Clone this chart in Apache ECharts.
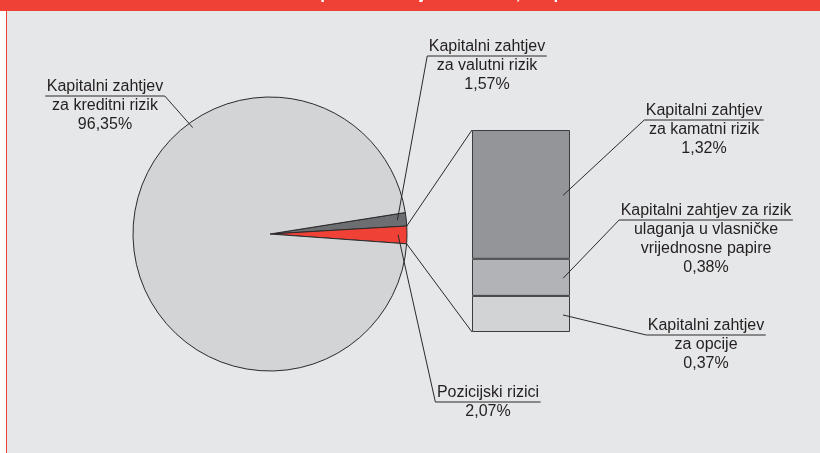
<!DOCTYPE html>
<html><head><meta charset="utf-8">
<script src="https://cdn.jsdelivr.net/npm/echarts@6/dist/echarts.min.js"></script>
<style>html,body{margin:0;padding:0;background:#fff}#c{width:820px;height:453px}</style>
</head><body><div id="c"></div>
<script>
// ---- data ----
const titleText = 'Slika 21. Struktura kapitalnih zahtjeva banaka, 31. prosinca 2007.';
const pieNames = ['Kapitalni zahtjev\nza valutni rizik', 'Pozicijski rizici', 'Kapitalni zahtjev\nza kreditni rizik'];
const pieValues = [1.57, 2.07, 96.35];
const barNames = ['Kapitalni zahtjev\nza opcije', 'Kapitalni zahtjev za rizik\nulaganja u vlasničke\nvrijednosne papire', 'Kapitalni zahtjev\nza kamatni rizik'];
const barValues = [0.37, 0.38, 1.32];

// ---- styles / layout ----
const pieColors = ['#6d6e71', '#ef4136', '#d3d4d6'];
const barColors = ['#d2d3d5', '#b2b3b6', '#939598'];
const PIE_C = [270, 234], PIE_R = 137, START = 9;
const GRID = {left: 472, top: 130, width: 98, height: 202};
const FONT = '16px "Liberation Sans", Arial, sans-serif';
const TXT = '#231f20', LINE = '#2b2a2b';
// label layouts: centre x, underline y, side of underline the leader attaches to
const pieLabelPos = [
  {cx: 487, uy: 56, end: 'left', r: 0.935},
  {cx: 488, uy: 402, end: 'left', r: 0.935},
  {cx: 105, uy: 96, end: 'right', r: 0.96, angle: 126}
];
const barLabelPos = [
  {cx: 706, uy: 335, end: 'left'},
  {cx: 706, uy: 220, end: 'left'},
  {cx: 704, uy: 120, end: 'left'}
];

const fmt = v => v.toFixed(2).replace('.', ',') + '%';
const sum = a => a.reduce((s, x) => s + x, 0);
const barTotal = sum(barValues);
const pieTotal = sum(pieValues);

const chart = echarts.init(document.getElementById('c'));
chart.setOption({
  backgroundColor: '#e6e7e8',
  animation: false,
  grid: Object.assign({}, GRID),
  xAxis: {type: 'category', data: ['p'], show: false},
  yAxis: {type: 'value', min: 0, max: barTotal, show: false},
  series: barValues.map((v, i) => ({
    type: 'bar', stack: 's', barWidth: '100%', data: [v], silent: true,
    itemStyle: {color: barColors[i], borderColor: '#3c3c3e', borderWidth: 1}
  })).concat([{
    type: 'pie', center: PIE_C, radius: PIE_R, startAngle: START, clockwise: true,
    silent: true, label: {show: false}, labelLine: {show: false},
    itemStyle: {borderColor: LINE, borderWidth: 1},
    data: pieValues.map((v, i) => ({value: v, name: pieNames[i], itemStyle: {color: pieColors[i]}}))
  }])
});

// ---- annotations ----
const ctx = document.createElement('canvas').getContext('2d');
ctx.font = FONT;
const pt = (deg, r) => { const t = deg * Math.PI / 180; return [PIE_C[0] + r * Math.cos(t), PIE_C[1] - r * Math.sin(t)]; };

let acc = 0;
const pieAngles = pieValues.map(v => { const a0 = START - acc * 360 / pieTotal; acc += v; const a1 = START - acc * 360 / pieTotal; return [a0, a1]; });

const g = [];
g.push({type: 'rect', shape: {x: 0, y: 0, width: 6, height: 453}, style: {fill: '#ffffff'}, z: 50});
g.push({type: 'rect', shape: {x: 6, y: 0, width: 1, height: 453}, style: {fill: '#ef4136'}, z: 50});
g.push({type: 'rect', shape: {x: 0, y: 0, width: 820, height: 11}, style: {fill: '#ef4136'}, z: 50});
g.push({type: 'text', x: 410, y: 3, z: 51, style: {text: titleText, fill: '#ffffff', font: 'bold 17px "Liberation Sans", Arial, sans-serif', align: 'center', verticalAlign: 'bottom'}});

function addLabel(text, pos, target) {
  const first = text.split('\n')[0];
  const w = ctx.measureText(first).width + 3;
  const x0 = pos.cx - w / 2, x1 = pos.cx + w / 2;
  g.push({type: 'text', x: pos.cx, y: pos.uy - 18.5, z: 60,
    style: {text: text, font: FONT, fill: TXT, align: 'center', verticalAlign: 'top', lineHeight: 19}});
  g.push({type: 'line', z: 60, shape: {x1: x0, y1: pos.uy, x2: x1, y2: pos.uy}, style: {stroke: LINE, lineWidth: 1}});
  const sx = pos.end === 'left' ? x0 : x1;
  g.push({type: 'line', z: 60, shape: {x1: sx, y1: pos.uy, x2: target[0], y2: target[1]}, style: {stroke: LINE, lineWidth: 1}});
}

pieValues.forEach((v, i) => {
  const p = pieLabelPos[i];
  const ang = p.angle !== undefined ? p.angle : (pieAngles[i][0] + pieAngles[i][1]) / 2;
  addLabel(pieNames[i] + '\n' + fmt(v), p, pt(ang, PIE_R * p.r));
});

let cum = 0;
barValues.forEach((v, i) => {
  const lo = chart.convertToPixel({xAxisIndex: 0, yAxisIndex: 0}, [0, cum]);
  const hi = chart.convertToPixel({xAxisIndex: 0, yAxisIndex: 0}, [0, cum + v]);
  cum += v;
  const right = lo[0] + GRID.width / 2;
  addLabel(barNames[i] + '\n' + fmt(v), barLabelPos[i], [right - 7, (lo[1] + hi[1]) / 2 + 1]);
});

// connector lines from the exploded slice to the bar
const redIdx = 1;
const topP = pt(pieAngles[redIdx][0], PIE_R), botP = pt(pieAngles[redIdx][1], PIE_R);
const barTop = chart.convertToPixel({xAxisIndex: 0, yAxisIndex: 0}, [0, barTotal]);
const barBot = chart.convertToPixel({xAxisIndex: 0, yAxisIndex: 0}, [0, 0]);
const barLeft = barTop[0] - GRID.width / 2;
g.push({type: 'line', z: 60, shape: {x1: topP[0], y1: topP[1], x2: barLeft, y2: barTop[1]}, style: {stroke: LINE, lineWidth: 1}});
g.push({type: 'line', z: 60, shape: {x1: botP[0], y1: botP[1], x2: barLeft, y2: barBot[1]}, style: {stroke: LINE, lineWidth: 1}});

chart.setOption({graphic: {elements: g}});
</script></body></html>
